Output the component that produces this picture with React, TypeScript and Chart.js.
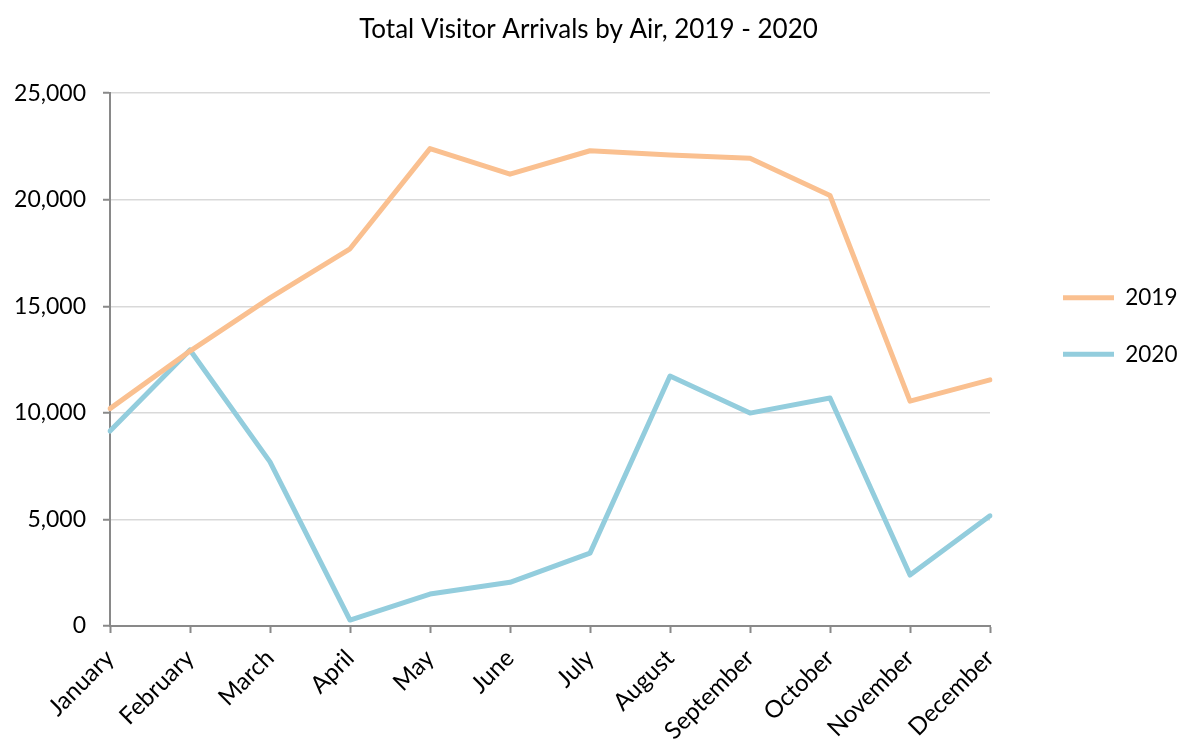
import React, { useEffect, useRef } from "react";
import { Chart, registerables } from "chart.js";

Chart.register(...registerables);

const months = [
  "January", "February", "March", "April", "May", "June",
  "July", "August", "September", "October", "November", "December",
];
const arrivals2019 = [10200, 12900, 15400, 17700, 22400, 21200, 22300, 22100, 21950, 20200, 10550, 11550];
const arrivals2020 = [9150, 12950, 7700, 280, 1500, 2050, 3420, 11730, 9990, 10700, 2390, 5170];
const yTicks = [0, 5000, 10000, 15000, 20000, 25000];

const FONT = "Lato, 'Noto Sans', sans-serif";
const AXIS_GREY = "#898989";
const W = 1177;
const H = 740;
const PLOT_LEFT = 110;
const PLOT_RIGHT = 990;
const PLOT_BOTTOM = 626;
const LEGEND_PAD = 34;
const LEGEND_ITEM_X = 1063;
const LEGEND_MID_Y = 326;

const legendPlace = {
  id: "legendPlace",
  beforeLayout(chart: any) {
    const lg = chart.legend;
    if (lg && !lg.__wrapped) {
      const orig = lg.fit.bind(lg);
      lg.fit = () => {
        orig();
        lg.width = W - PLOT_RIGHT;
      };
      lg.__wrapped = true;
    }
  },
  afterLayout(chart: any) {
    const lg = chart.legend;
    if (!lg) return;
    const dx = LEGEND_ITEM_X - LEGEND_PAD - lg.left;
    lg.left += dx;
    lg.right += dx;
    const dy = LEGEND_MID_Y - (lg.top + lg.bottom) / 2;
    lg.top += dy;
    lg.bottom += dy;
  },
};

export default function App() {
  const ref = useRef<HTMLCanvasElement | null>(null);

  useEffect(() => {
    if (!ref.current) return;
    const chart = new Chart(ref.current, {
      type: "line",
      data: {
        labels: months,
        datasets: [
          {
            label: "2019",
            data: arrivals2019,
            borderColor: "#FAC090",
            backgroundColor: "#FAC090",
            borderWidth: 5,
            pointRadius: 0,
            tension: 0,
            borderJoinStyle: "round",
            borderCapStyle: "round",
          },
          {
            label: "2020",
            data: arrivals2020,
            borderColor: "#93CDDD",
            backgroundColor: "#93CDDD",
            borderWidth: 5,
            pointRadius: 0,
            tension: 0,
            borderJoinStyle: "round",
            borderCapStyle: "round",
          },
        ],
      },
      options: {
        responsive: false,
        animation: false,
        layout: { padding: { left: 0, right: 0, top: 0, bottom: 0 } },
        plugins: {
          title: {
            display: true,
            text: "Total Visitor Arrivals by Air, 2019 - 2020",
            color: "#000",
            font: { family: FONT, size: 26, weight: "normal", lineHeight: 1.2 },
            padding: { top: 14, bottom: 48 },
          },
          legend: {
            position: "right",
            labels: {
              usePointStyle: true,
              pointStyle: "line",
              pointStyleWidth: 51,
              padding: LEGEND_PAD,
              color: "#000",
              font: { family: FONT, size: 22.5 },
            },
          },
          tooltip: { enabled: false },
        },
        scales: {
          x: {
            type: "category",
            offset: false,
            afterFit: (s: any) => {
              s.height = H - PLOT_BOTTOM;
            },
            grid: {
              drawOnChartArea: false,
              drawTicks: true,
              tickLength: 7,
              tickColor: AXIS_GREY,
              tickWidth: 2,
            },
            border: { display: true, color: AXIS_GREY, width: 2 },
            ticks: {
              minRotation: 45,
              maxRotation: 45,
              autoSkip: false,
              padding: 11,
              color: "#000",
              font: { family: FONT, size: 24 },
            },
          },
          y: {
            min: 0,
            max: 25000,
            afterFit: (s: any) => {
              s.width = PLOT_LEFT;
            },
            afterBuildTicks: (s: any) => {
              s.ticks = yTicks.map((v) => ({ value: v }));
            },
            grid: {
              color: "#D9D9D9",
              lineWidth: 1.5,
              drawTicks: true,
              tickLength: 7,
              tickColor: AXIS_GREY,
              tickWidth: 2,
            },
            border: { display: true, color: AXIS_GREY, width: 2 },
            ticks: {
              padding: 17,
              color: "#000",
              font: { family: FONT, size: 23 },
              callback: (v: any) => Number(v).toLocaleString("en-US"),
            },
          },
        },
      },
      plugins: [legendPlace],
    });
    return () => chart.destroy();
  }, []);

  return (
    <div style={{ position: "fixed", left: 0, top: 0, width: W, height: H, background: "#fff" }}>
      <canvas ref={ref} width={W} height={H} style={{ display: "block" }} />
    </div>
  );
}
